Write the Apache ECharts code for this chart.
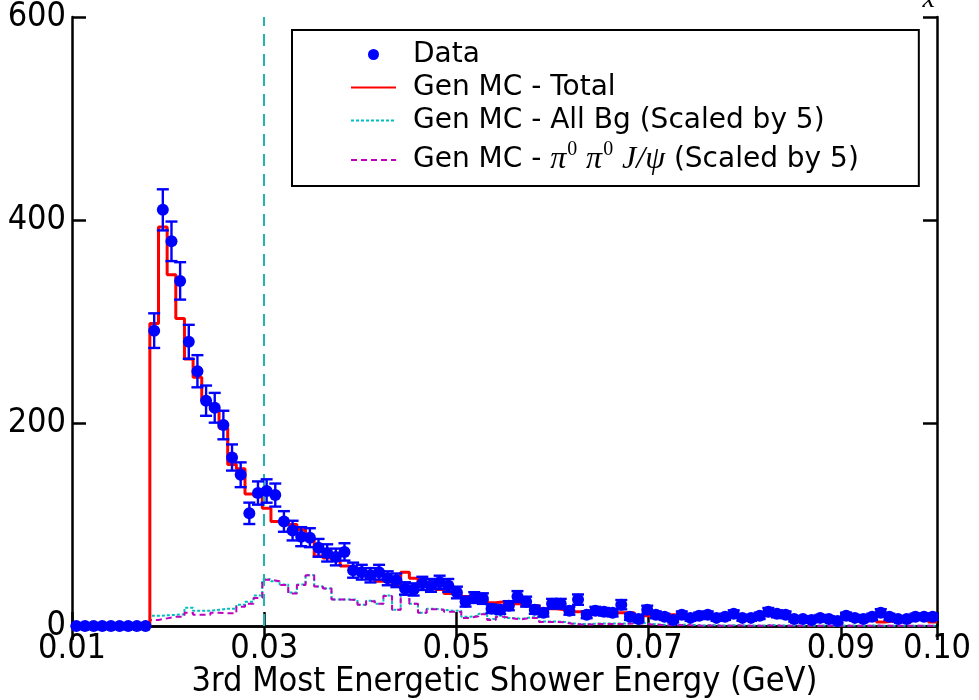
<!DOCTYPE html>
<html>
<head>
<meta charset="utf-8">
<script src="https://cdn.jsdelivr.net/npm/echarts@6/dist/echarts.min.js"></script>
<style>
  html, body { margin: 0; padding: 0; background: #ffffff; }
  #chart { width: 979px; height: 700px; }
</style>
</head>
<body>
<div id="chart"></div>
<script>
// Histogram binning: 100 bins between 0.01 and 0.10 GeV
const binLow = 0.01;
const binWidth = 0.0009;

// Observed events per bin
const dataCounts = [
  0, 0, 0, 0, 0, 0, 0, 0, 0,
  291, 410, 379, 340, 280, 251, 222, 215, 198, 166,
  149, 111, 131, 133, 129, 103, 94, 88, 87, 77,
  72, 68, 73, 55, 53, 50, 53, 47, 45, 37,
  36, 42, 40, 43, 40, 33, 24, 28, 27, 17,
  16, 20, 29, 24, 16, 13, 22, 22, 15, 26,
  11, 15, 14, 13, 21, 9, 7, 16, 11, 9,
  6, 11, 8, 10, 11, 8, 9, 12, 8, 8,
  10, 14, 12, 11, 7, 7, 6, 8, 7, 5,
  10, 8, 7, 9, 13, 9, 7, 7, 9, 9,
  9
];

// Generic MC, total prediction
const mcTotal = [
  0, 0, 0, 0, 0, 0, 0, 0, 0,
  298, 393, 346, 303, 263, 245, 222, 213, 195, 159,
  155, 130, 128, 116, 103, 103, 100, 95, 86, 69,
  67, 65, 59, 58, 53, 47, 44, 47, 41, 53,
  47, 39, 39, 36, 32, 31, 29, 28, 26, 23,
  24, 20, 22, 20, 20, 17, 17, 16, 14, 14,
  15, 12, 15, 11, 13, 13, 10, 10, 10, 9,
  11, 11, 10, 10, 9, 9, 9, 9, 8, 9,
  10, 10, 9, 9, 6, 5, 8, 9, 6, 5,
  7, 7, 7, 6, 4, 5, 4, 4, 7, 8,
  4
];

// Generic MC, all backgrounds (scaled by 5)
const mcAllBg = [
  0, 0, 0, 0, 0, 0, 0, 0, 0,
  10, 10.5, 11, 11.5, 18, 15, 15, 16, 17, 17,
  21, 24, 30, 46, 44, 41, 33, 41, 50, 39,
  37, 26, 26, 26, 21, 25, 22, 30, 16, 31,
  22, 13, 17, 16, 15, 15, 9, 10, 12, 7,
  10, 8, 7, 8.5, 8.5, 4.5, 4.5, 4, 2.5, 2,
  2, 2.5, 2.5, 2.5, 2.5, 3, 3, 2, 1.5, 1,
  1, 1.5, 1, 0.5, 1, 0.5, 0.5, 1, 0.5, 0.5,
  0.5, 1, 0.5, 0.5, 0.5, 0.5, 0.3, 0.5, 0.3, 0.3,
  0.5, 0.3, 0.3, 0.5, 0.3, 0.3, 0.3, 0.3, 0.3, 0.3,
  0.3
];

// Generic MC, pi0 pi0 J/psi component (scaled by 5)
const mcPiPiJpsi = [
  0, 0, 0, 0, 0, 0, 0, 0, 0,
  6, 7.5, 9, 9, 13, 11, 11, 13, 12.5, 12.5,
  19, 22, 27.5, 45.5, 44, 40.5, 32, 40.5, 50, 39,
  37, 26, 26, 25.5, 21, 24.5, 22, 29.5, 16, 30.5,
  22, 13, 16.5, 16, 14, 14, 8, 9.5, 11.5, 6,
  9, 7.5, 6.5, 8, 8, 4, 4, 3.5, 2, 1.5,
  1.5, 2, 2, 2, 2, 2.5, 2.5, 1.5, 1, 0.8,
  0.8, 1, 0.5, 0.3, 0.5, 0.3, 0.3, 0.5, 0.3, 0.3,
  0.3, 0.5, 0.3, 0.3, 0.3, 0.3, 0.2, 0.3, 0.2, 0.2,
  0.3, 0.2, 0.2, 0.3, 0.2, 0.2, 0.2, 0.2, 0.2, 0.2,
  0.2
];

// Axis ticks and labels
const xTickValues = [0.01, 0.03, 0.05, 0.07, 0.09, 0.10];
const xLabelValues = [0.01, 0.03, 0.05, 0.07, 0.09, 0.10];
const yTickValues = [0, 200, 400, 600];
const cutValue = 0.03;

const seriesNames = [
  'Data',
  'Gen MC - Total',
  'Gen MC - All Bg (Scaled by 5)',
  'Gen MC - \u03c0\u2070 \u03c0\u2070 J/\u03c8 (Scaled by 5)'
];

const tickFont = '"DejaVu Sans Condensed", "DejaVu Sans", sans-serif';
const mathFont = '"Liberation Serif", "DejaVu Serif", serif';

function binEdge(i) { return +(binLow + i * binWidth).toFixed(6); }
function binCenter(i) { return +(binLow + (i + 0.5) * binWidth).toFixed(6); }

// Step outline: one point at each left edge, plus the closing right edge
function stepPoints(vals) {
  const pts = vals.map((v, i) => [binEdge(i), v]);
  pts.push([binEdge(vals.length), vals[vals.length - 1]]);
  return pts;
}

const chart = echarts.init(document.getElementById('chart'), null, { renderer: 'canvas' });

const axisLineStyle = { color: '#000', width: 2.5 };
const hiddenSymbol = { opacity: 0 };

const option = {
  animation: false,
  backgroundColor: '#ffffff',
  grid: { left: 72, right: 42, top: 17, bottom: 74, containLabel: false, outerBoundsMode: 'none' },
  xAxis: [
    {
      type: 'value', position: 'bottom', min: 0.01, max: 0.10,
      axisLine: { show: true, lineStyle: axisLineStyle },
      axisTick: { show: true, inside: true, length: 14, lineStyle: axisLineStyle, customValues: xTickValues },
      axisLabel: {
        customValues: xLabelValues, margin: 6,
        formatter: v => v.toFixed(2),
        fontFamily: tickFont, fontSize: 34, color: '#000'
      },
      splitLine: { show: false },
      name: '3rd Most Energetic Shower Energy (GeV)',
      nameLocation: 'middle', nameGap: 39, nameMoveOverlap: false,
      nameTextStyle: { fontFamily: tickFont, fontSize: 34, color: '#000' }
    },
    {
      type: 'value', position: 'top', min: 0.01, max: 0.10,
      axisLine: { show: true, lineStyle: axisLineStyle },
      axisTick: { show: true, inside: true, length: 14, lineStyle: axisLineStyle, customValues: xTickValues },
      axisLabel: { show: false },
      splitLine: { show: false }
    }
  ],
  yAxis: [
    {
      type: 'value', position: 'left', min: 0, max: 600, interval: 200,
      axisLine: { show: true, lineStyle: axisLineStyle },
      axisTick: { show: true, inside: true, length: 14, lineStyle: axisLineStyle, customValues: yTickValues },
      axisLabel: {
        customValues: yTickValues, margin: 6,
        fontFamily: tickFont, fontSize: 34, color: '#000'
      },
      splitLine: { show: false }
    },
    {
      type: 'value', position: 'right', min: 0, max: 600, interval: 200,
      axisLine: { show: true, lineStyle: axisLineStyle },
      axisTick: { show: true, inside: true, length: 14, lineStyle: axisLineStyle, customValues: yTickValues },
      axisLabel: { show: false },
      splitLine: { show: false }
    }
  ],
  legend: {
    orient: 'vertical', left: 292, top: 30,
    padding: [9, 60, 4, 58],
    borderColor: '#000', borderWidth: 2,
    itemWidth: 45, itemHeight: 11, itemGap: 2,
    selectedMode: false,
    data: [
      { name: seriesNames[0], icon: 'circle' },
      { name: seriesNames[1], itemStyle: hiddenSymbol },
      { name: seriesNames[2], itemStyle: hiddenSymbol },
      { name: seriesNames[3], itemStyle: hiddenSymbol }
    ],
    formatter: function (name) {
      if (name === seriesNames[3]) {
        return '{t|Gen MC - }{m|\u03c0}{s|0}{t| }{m|\u03c0}{s|0}{t| }{m|J/\u03c8}{t| (Scaled by 5)}';
      }
      return '{t|' + name + '}';
    },
    textStyle: {
      color: '#000', fontFamily: 'DejaVu Sans', fontSize: 28, lineHeight: 31,
      padding: [0, 0, 0, 12],
      rich: {
        t: { fontFamily: 'DejaVu Sans', fontSize: 28, lineHeight: 31, color: '#000' },
        m: { fontFamily: mathFont, fontStyle: 'italic', fontSize: 32, lineHeight: 44, color: '#000' },
        s: { fontFamily: mathFont, fontSize: 20, lineHeight: 44, verticalAlign: 'top', padding: [2, 0, 0, 1], color: '#000' }
      }
    }
  },
  graphic: [
    {
      type: 'text', right: 44, top: -14, z: 10,
      style: { text: 'x', font: 'italic 28px "Liberation Serif", serif', fill: '#000' }
    }
  ],
  series: [
    {
      name: seriesNames[2], type: 'line', step: 'end', symbol: 'none',
      data: stepPoints(mcAllBg),
      lineStyle: { color: '#00bfbf', width: 2, type: [3, 2] },
      itemStyle: { color: '#00bfbf' },
      z: 2,
      markLine: {
        silent: true, symbol: 'none', label: { show: false },
        lineStyle: { color: '#22b4ae', width: 2, type: [12, 8] },
        data: [{ xAxis: cutValue }]
      }
    },
    {
      name: seriesNames[3], type: 'line', step: 'end', symbol: 'none',
      data: stepPoints(mcPiPiJpsi),
      lineStyle: { color: '#bf00bf', width: 2, type: [6, 4] },
      itemStyle: { color: '#bf00bf' },
      z: 3
    },
    {
      name: seriesNames[1], type: 'line', step: 'end', symbol: 'none',
      data: stepPoints(mcTotal),
      lineStyle: { color: '#ff0000', width: 3 },
      itemStyle: { color: '#ff0000' },
      z: 4
    },
    {
      name: 'Data uncertainty', type: 'custom', z: 5,
      data: dataCounts.map((v, i) => [binCenter(i), v, Math.sqrt(v)]),
      renderItem: function (params, api) {
        const x = api.value(0), y = api.value(1), e = api.value(2);
        if (!e) return null;
        const top = api.coord([x, y + e]);
        const bot = api.coord([x, y - e]);
        const cw = 6;
        const st = { stroke: '#0000ff', lineWidth: 2.4 };
        return {
          type: 'group',
          children: [
            { type: 'line', shape: { x1: top[0], y1: top[1], x2: bot[0], y2: bot[1] }, style: st },
            { type: 'line', shape: { x1: top[0] - cw, y1: top[1], x2: top[0] + cw, y2: top[1] }, style: st },
            { type: 'line', shape: { x1: bot[0] - cw, y1: bot[1], x2: bot[0] + cw, y2: bot[1] }, style: st }
          ]
        };
      }
    },
    {
      name: seriesNames[0], type: 'scatter', symbol: 'circle', symbolSize: 12,
      data: dataCounts.map((v, i) => [binCenter(i), v]),
      itemStyle: { color: '#0000ff', opacity: 1 },
      z: 6
    }
  ]
};

chart.setOption(option);
</script>
</body>
</html>
